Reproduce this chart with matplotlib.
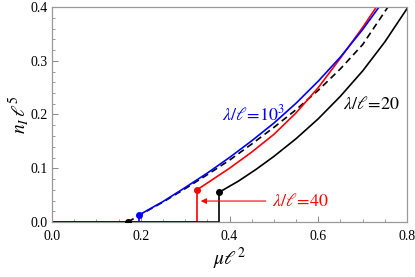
import matplotlib
matplotlib.use("Agg")
import matplotlib.pyplot as plt
from matplotlib.ticker import MultipleLocator, FormatStrFormatter

plt.rcParams['font.family'] = ['Liberation Serif', 'DejaVu Serif']
plt.rcParams['mathtext.fontset'] = 'stix'

# lambda/l = 10^3 (blue)
x_blue = [0.196, 0.25, 0.30, 0.35, 0.40, 0.45, 0.50, 0.55, 0.60, 0.65, 0.70, 0.737]
y_blue = [0.013, 0.038, 0.064, 0.091, 0.120, 0.151, 0.184, 0.221, 0.262, 0.307, 0.358, 0.400]

# lambda/l = 40 (red)
x_red = [0.327, 0.36, 0.40, 0.45, 0.50, 0.55, 0.60, 0.65, 0.70, 0.731]
y_red = [0.060, 0.078, 0.100, 0.130, 0.163, 0.203, 0.250, 0.305, 0.362, 0.400]

# lambda/l = 20 (black)
x_black = [0.376, 0.42, 0.46, 0.50, 0.55, 0.60, 0.65, 0.70, 0.75, 0.80]
y_black = [0.055, 0.076, 0.098, 0.122, 0.155, 0.192, 0.234, 0.281, 0.335, 0.397]

# limit curve (dashed)
x_dash = [0.171, 0.20, 0.25, 0.30, 0.35, 0.40, 0.45, 0.50, 0.55, 0.60, 0.65, 0.70, 0.757]
y_dash = [0.0, 0.014, 0.037, 0.062, 0.088, 0.115, 0.145, 0.176, 0.209, 0.245, 0.285, 0.330, 0.400]

fig = plt.figure(figsize=(4.15, 2.77), dpi=100)
ax = fig.add_axes([52/415, 1-222/277, 355/415, 215/277])

lw = 1.2
# zero branches + jumps
ax.plot([0, x_blue[0], x_blue[0]], [0, 0, y_blue[0]], color='blue', lw=lw)
ax.plot([0, x_red[0], x_red[0]], [0, 0, y_red[0]], color='red', lw=lw)
ax.plot([0, x_black[0], x_black[0]], [0, 0, y_black[0]], color='black', lw=lw)

ax.plot(x_dash, y_dash, color='black', lw=lw, ls=(0, (4, 2.5)))
ax.plot(x_black, y_black, color='black', lw=lw)
ax.plot(x_red, y_red, color='red', lw=lw)
ax.plot(x_blue, y_blue, color='blue', lw=lw)

ax.plot([x_dash[0]], [y_dash[0]], 'o', color='black', ms=4, zorder=5)
ax.plot([x_blue[0]], [y_blue[0]], 'o', color='blue', ms=4, zorder=5)
ax.plot([x_red[0]], [y_red[0]], 'o', color='red', ms=4, zorder=5)
ax.plot([x_black[0]], [y_black[0]], 'o', color='black', ms=4, zorder=5)

ax.text(0.383, 0.2, r'$\lambda/\ell\!=\!10^3$', color='blue', fontsize=13, ha='left', va='center')
ax.text(0.656, 0.218, r'$\lambda/\ell\!=\!20$', color='black', fontsize=13, ha='left', va='center')
ax.text(0.496, 0.039, r'$\lambda/\ell\!=\!40$', color='red', fontsize=13, ha='left', va='center')
ax.annotate('', xy=(0.329, 0.039), xytext=(0.488, 0.039),
            arrowprops=dict(arrowstyle='-|>', color='red', lw=0.8, mutation_scale=8))

ax.set_xlim(0, 0.8)
ax.set_ylim(0, 0.4)
ax.xaxis.set_major_locator(MultipleLocator(0.2))
ax.xaxis.set_minor_locator(MultipleLocator(0.05))
ax.yaxis.set_major_locator(MultipleLocator(0.1))
ax.yaxis.set_minor_locator(MultipleLocator(0.02))
ax.xaxis.set_major_formatter(FormatStrFormatter('%.1f'))
ax.yaxis.set_major_formatter(FormatStrFormatter('%.1f'))
ax.tick_params(which='both', direction='in', colors='#888888', labelcolor='black', labelsize=10)
ax.tick_params(which='major', length=4, width=0.7)
ax.tick_params(which='minor', length=2, width=0.6)
ax.tick_params(axis='x', pad=6)
ax.tick_params(axis='y', pad=3)
for s in ax.spines.values():
    s.set_color('#999999')
    s.set_linewidth(0.9)

ax.set_xlabel(r'$\mu\ell^2$', fontsize=14, labelpad=2)
ax.set_ylabel(r'$n_I\,\ell^5$', fontsize=14, labelpad=0)

fig.savefig('out.png', dpi=100)
